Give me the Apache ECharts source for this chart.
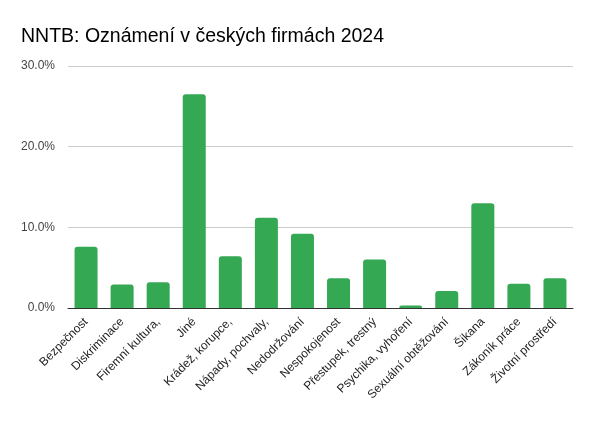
<!DOCTYPE html>
<html>
<head>
<meta charset="utf-8">
<script src="https://cdn.jsdelivr.net/npm/echarts@6/dist/echarts.min.js"></script>
<style>
  html, body { margin: 0; padding: 0; background: #fff; }
  #main { width: 600px; height: 421px; }
</style>
</head>
<body>
<div id="main"></div>
<script>
var categories = ['Bezpečnost', 'Diskriminace', 'Firemní kultura,', 'Jiné', 'Krádež, korupce,',
  'Nápady, pochvaly,', 'Nedodržování', 'Nespokojenost', 'Přestupek, trestný', 'Psychika, vyhoření',
  'Sexuální obtěžování', 'Šikana', 'Zákoník práce', 'Životní prostředí'];
var shares = [7.6, 2.9, 3.2, 26.5, 6.4, 11.2, 9.2, 3.7, 6.0, 0.3, 2.1, 13.0, 3.0, 3.7];
var yTicks = [0, 10, 20, 30];

var myChart = echarts.init(document.getElementById('main'));
var option = {
  backgroundColor: '#ffffff',
  textStyle: { fontFamily: 'Liberation Sans, Arial, sans-serif' },
  title: {
    text: 'NNTB: Oznámení v českých firmách 2024',
    left: 16,
    top: 22,
    textStyle: { fontSize: 19.5, fontWeight: 'normal', color: '#000', fontFamily: 'Liberation Sans, Arial, sans-serif' }
  },
  grid: { left: 68, right: 27, top: 66, bottom: 113 },
  xAxis: {
    type: 'category',
    data: categories,
    axisLine: { lineStyle: { color: '#333', width: 1 } },
    axisTick: { show: false },
    axisLabel: { interval: 0, rotate: 45, fontSize: 12, color: '#222', margin: 12 }
  },
  yAxis: {
    type: 'value',
    min: yTicks[0],
    max: yTicks[yTicks.length - 1],
    interval: 10,
    axisLine: { show: false },
    axisTick: { show: false },
    splitLine: { lineStyle: { color: '#cccccc' } },
    axisLabel: { fontSize: 12, color: '#444', margin: 13,
      formatter: function (v) { return v.toFixed(1) + '%'; } }
  },
  series: [{
    type: 'bar',
    data: shares,
    barWidth: 23,
    itemStyle: { color: '#34a853', borderRadius: [3, 3, 0, 0] }
  }]
};
myChart.setOption(option);
window.onresize = function () { myChart.resize(); };
</script>
</body>
</html>
